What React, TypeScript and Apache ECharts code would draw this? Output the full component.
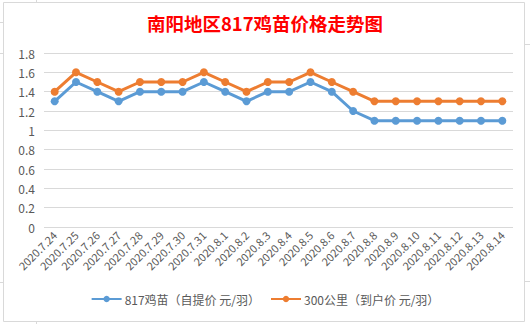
import React, { useEffect, useRef } from "react";
import * as echarts from "echarts";

const categories = [
  "2020.7.24", "2020.7.25", "2020.7.26", "2020.7.27", "2020.7.28", "2020.7.29",
  "2020.7.30", "2020.7.31", "2020.8.1", "2020.8.2", "2020.8.3", "2020.8.4",
  "2020.8.5", "2020.8.6", "2020.8.7", "2020.8.8", "2020.8.9", "2020.8.10",
  "2020.8.11", "2020.8.12", "2020.8.13", "2020.8.14",
];
const selfPickup = [1.3, 1.5, 1.4, 1.3, 1.4, 1.4, 1.4, 1.5, 1.4, 1.3, 1.4, 1.4, 1.5, 1.4, 1.2, 1.1, 1.1, 1.1, 1.1, 1.1, 1.1, 1.1];
const delivered = [1.4, 1.6, 1.5, 1.4, 1.5, 1.5, 1.5, 1.6, 1.5, 1.4, 1.5, 1.5, 1.6, 1.5, 1.4, 1.3, 1.3, 1.3, 1.3, 1.3, 1.3, 1.3];
const seriesNames = ["817鸡苗（自提价 元/羽）", "300公里（到户价 元/羽）"];
const title = "南阳地区817鸡苗价格走势图";

export default function App() {
  const ref = useRef<HTMLDivElement>(null);
  useEffect(() => {
    if (!ref.current) return;
    const chart = echarts.init(ref.current, undefined, { renderer: "svg" });
    const font = "'Noto Sans CJK SC', 'Noto Sans', sans-serif";
    chart.setOption({
      animation: false,
      backgroundColor: "#fff",
      textStyle: { fontFamily: font },
      title: {
        text: title,
        left: "center",
        top: 9,
        textStyle: { color: "#FF0000", fontSize: 18.5, fontWeight: "bold", fontFamily: font },
      },
      graphic: [
        { type: "rect", shape: { x: 3.5, y: 2.5, width: 521, height: 319 }, style: { fill: "none", stroke: "#D9D9D9", lineWidth: 1 }, silent: true },
        { type: "line", shape: { x1: 36.5, y1: 0, x2: 36.5, y2: 2 }, style: { stroke: "#D9D9D9" } },
        { type: "line", shape: { x1: 36.5, y1: 322, x2: 36.5, y2: 324 }, style: { stroke: "#D9D9D9" } },
        { type: "line", shape: { x1: 0, y1: 22.5, x2: 3, y2: 22.5 }, style: { stroke: "#D9D9D9" } },
        { type: "line", shape: { x1: 0, y1: 53.5, x2: 3, y2: 53.5 }, style: { stroke: "#D9D9D9" } },
        { type: "line", shape: { x1: 0, y1: 282.5, x2: 3, y2: 282.5 }, style: { stroke: "#D9D9D9" } },
        { type: "line", shape: { x1: 525, y1: 281.5, x2: 530, y2: 281.5 }, style: { stroke: "#D9D9D9" } },
        { type: "line", shape: { x1: 525, y1: 44.5, x2: 530, y2: 44.5 }, style: { stroke: "#D9D9D9" } },
      ],
      legend: {
        bottom: 14,
        left: "center",
        itemWidth: 30,
        itemHeight: 8,
        itemGap: 10,
        textStyle: { color: "#595959", fontSize: 12, fontFamily: font, padding: [0, 0, 0, -2] },
        data: seriesNames,
      },
      grid: { left: 44, right: 17, top: 53, bottom: 97, containLabel: false },
      xAxis: {
        type: "category",
        data: categories,
        boundaryGap: true,
        axisLine: { show: false },
        axisTick: { show: false },
        axisLabel: { rotate: 45, interval: 0, color: "#595959", fontSize: 11, margin: 6, fontFamily: font },
      },
      yAxis: {
        type: "value",
        min: 0,
        max: 1.8,
        interval: 0.2,
        axisLine: { show: false },
        axisTick: { show: false },
        splitLine: { lineStyle: { color: "#D9D9D9", width: 1 } },
        axisLabel: {
          color: "#595959",
          fontSize: 12,
          margin: 9,
          fontFamily: font,
          formatter: (v: number) => String(Math.round(v * 10) / 10),
        },
      },
      series: [
        {
          name: seriesNames[0],
          type: "line",
          data: selfPickup,
          symbol: "circle",
          symbolSize: 8,
          lineStyle: { width: 3, color: "#5B9BD5" },
          itemStyle: { color: "#5B9BD5" },
        },
        {
          name: seriesNames[1],
          type: "line",
          data: delivered,
          symbol: "circle",
          symbolSize: 8,
          lineStyle: { width: 3, color: "#ED7D31" },
          itemStyle: { color: "#ED7D31" },
        },
      ],
    });
    return () => chart.dispose();
  }, []);
  return <div ref={ref} style={{ position: "fixed", left: 0, top: 0, width: 530, height: 324 }} />;
}
